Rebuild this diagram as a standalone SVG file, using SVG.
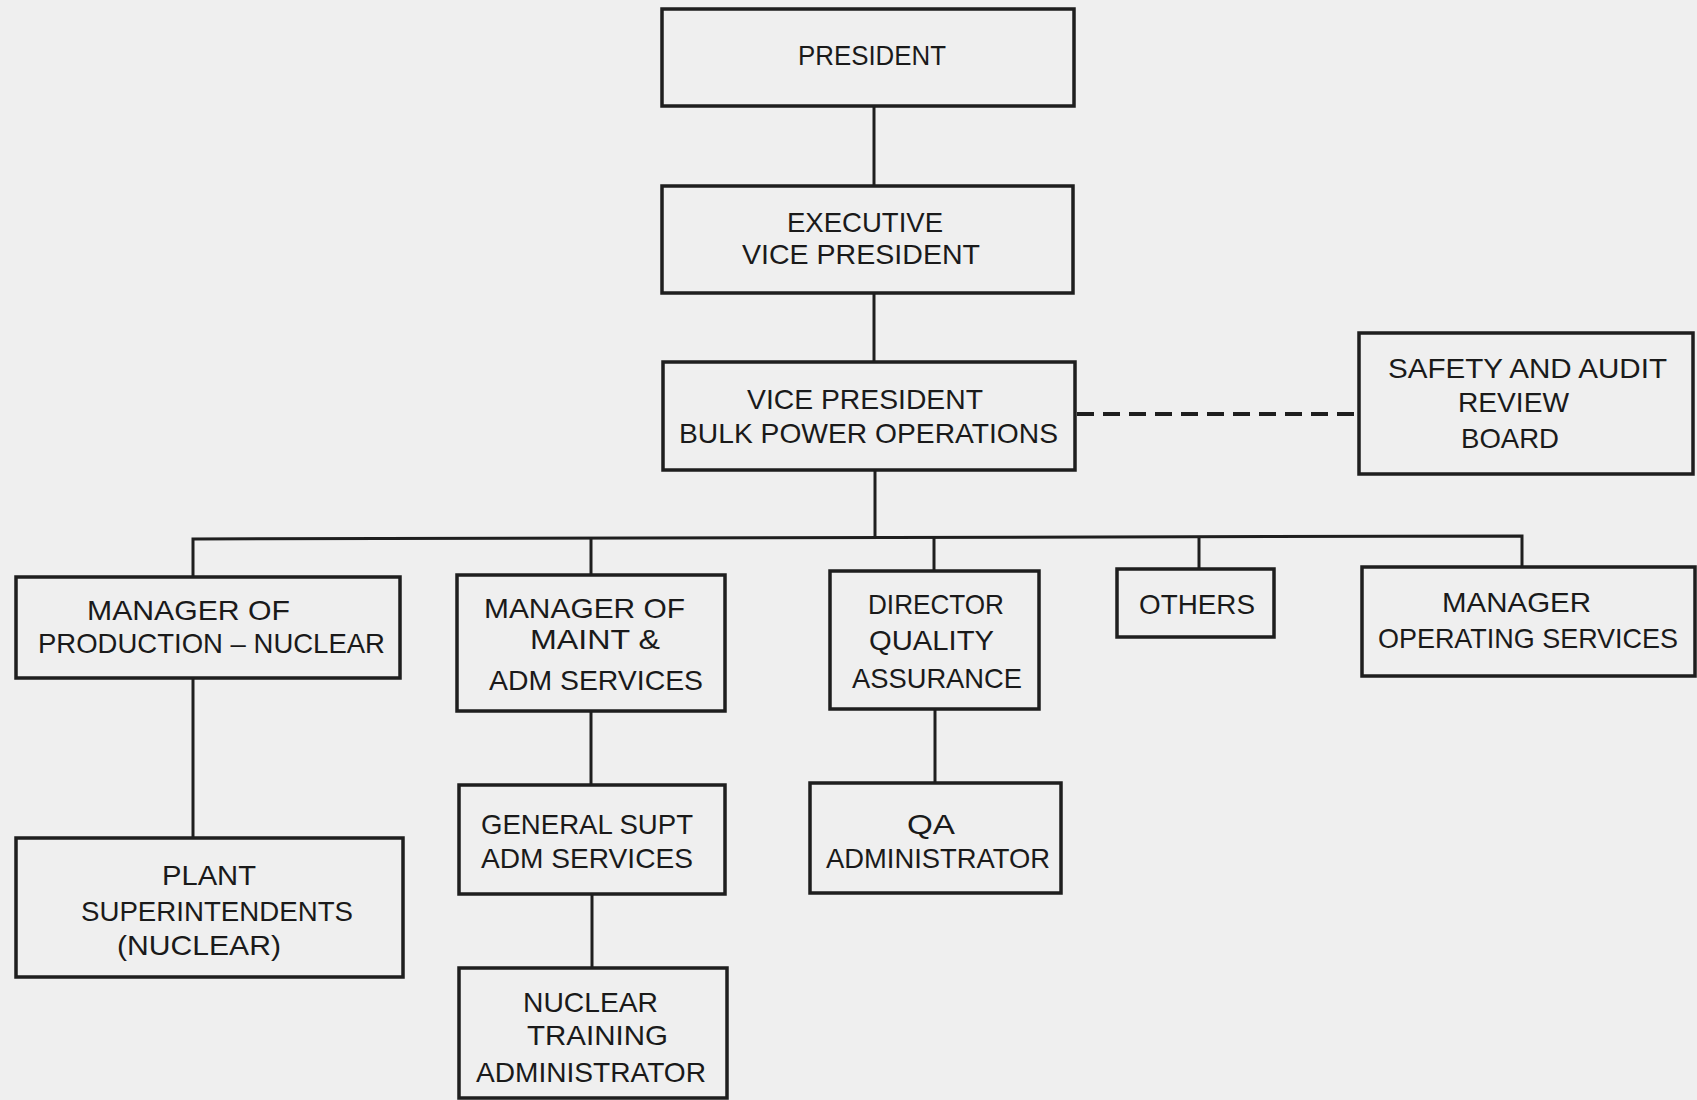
<svg xmlns="http://www.w3.org/2000/svg" width="1697" height="1100" viewBox="0 0 1697 1100">
<style>
.bg{fill:#efefef}
.box{fill:none;stroke:#1e1e1e;stroke-width:3.5}
.ln{fill:none;stroke:#1e1e1e;stroke-width:3}
.dash{fill:none;stroke:#1e1e1e;stroke-width:4;stroke-dasharray:17 9}
text{font-family:"Liberation Sans",Arial,sans-serif;font-size:28px;fill:#1a1a1a;text-anchor:start}
</style>
<rect class="bg" x="0" y="0" width="1697" height="1100"/>
<g id="connectors">
<line class="ln" x1="874" y1="106" x2="874" y2="186"/>
<line class="ln" x1="874" y1="293" x2="874" y2="362"/>
<line class="ln" x1="875" y1="470" x2="875" y2="538"/>
<polyline class="ln" points="193,577 193,539 1522,536 1522,567"/>
<line class="ln" x1="591" y1="538" x2="591" y2="575"/>
<line class="ln" x1="934" y1="537" x2="934" y2="571"/>
<line class="ln" x1="1199" y1="537" x2="1199" y2="569"/>
<line class="ln" x1="193" y1="678" x2="193" y2="838"/>
<line class="ln" x1="591" y1="711" x2="591" y2="785"/>
<line class="ln" x1="935" y1="709" x2="935" y2="783"/>
<line class="ln" x1="592" y1="894" x2="592" y2="968"/>
<line class="dash" x1="1077" y1="414" x2="1359" y2="414"/>
</g>
<g id="president">
<rect class="box" x="662" y="9" width="412" height="97"/>
<text x="798" y="65" textLength="148" lengthAdjust="spacingAndGlyphs">PRESIDENT</text>
</g>
<g id="exec-vp">
<rect class="box" x="662" y="186" width="411" height="107"/>
<text x="787" y="232" textLength="156" lengthAdjust="spacingAndGlyphs">EXECUTIVE</text>
<text x="742" y="264" textLength="238" lengthAdjust="spacingAndGlyphs">VICE  PRESIDENT</text>
</g>
<g id="vp-bulk">
<rect class="box" x="663" y="362" width="412" height="108"/>
<text x="747" y="409" textLength="236" lengthAdjust="spacingAndGlyphs">VICE PRESIDENT</text>
<text x="679" y="443" textLength="379" lengthAdjust="spacingAndGlyphs">BULK POWER OPERATIONS</text>
</g>
<g id="safety">
<rect class="box" x="1359" y="333" width="334" height="141"/>
<text x="1388" y="378" textLength="279" lengthAdjust="spacingAndGlyphs">SAFETY AND AUDIT</text>
<text x="1458" y="412" textLength="111" lengthAdjust="spacingAndGlyphs">REVIEW</text>
<text x="1461" y="448" textLength="98" lengthAdjust="spacingAndGlyphs">BOARD</text>
</g>
<g id="mgr-prod">
<rect class="box" x="16" y="577" width="384" height="101"/>
<text x="87" y="620" textLength="203" lengthAdjust="spacingAndGlyphs">MANAGER  OF</text>
<text x="38" y="653" textLength="347" lengthAdjust="spacingAndGlyphs">PRODUCTION – NUCLEAR</text>
</g>
<g id="mgr-maint">
<rect class="box" x="457" y="575" width="268" height="136"/>
<text x="484" y="618" textLength="201" lengthAdjust="spacingAndGlyphs">MANAGER  OF</text>
<text x="530" y="649" textLength="130" lengthAdjust="spacingAndGlyphs">MAINT  &amp;</text>
<text x="489" y="690" textLength="214" lengthAdjust="spacingAndGlyphs">ADM  SERVICES</text>
</g>
<g id="dir-qa">
<rect class="box" x="830" y="571" width="209" height="138"/>
<text x="868" y="614" textLength="136" lengthAdjust="spacingAndGlyphs">DIRECTOR</text>
<text x="869" y="650" textLength="125" lengthAdjust="spacingAndGlyphs">QUALITY</text>
<text x="852" y="688" textLength="170" lengthAdjust="spacingAndGlyphs">ASSURANCE</text>
</g>
<g id="others">
<rect class="box" x="1117" y="569" width="157" height="68"/>
<text x="1139" y="614" textLength="116" lengthAdjust="spacingAndGlyphs">OTHERS</text>
</g>
<g id="mgr-ops">
<rect class="box" x="1362" y="567" width="333" height="109"/>
<text x="1442" y="612" textLength="149" lengthAdjust="spacingAndGlyphs">MANAGER</text>
<text x="1378" y="648" textLength="300" lengthAdjust="spacingAndGlyphs">OPERATING SERVICES</text>
</g>
<g id="plant-supt">
<rect class="box" x="16" y="838" width="387" height="139"/>
<text x="162" y="885" textLength="94" lengthAdjust="spacingAndGlyphs">PLANT</text>
<text x="81" y="921" textLength="272" lengthAdjust="spacingAndGlyphs">SUPERINTENDENTS</text>
<text x="117" y="955" textLength="164" lengthAdjust="spacingAndGlyphs">(NUCLEAR)</text>
</g>
<g id="gen-supt">
<rect class="box" x="459" y="785" width="266" height="109"/>
<text x="481" y="834" textLength="212" lengthAdjust="spacingAndGlyphs">GENERAL SUPT</text>
<text x="481" y="868" textLength="212" lengthAdjust="spacingAndGlyphs">ADM  SERVICES</text>
</g>
<g id="qa-admin">
<rect class="box" x="810" y="783" width="251" height="110"/>
<text x="907" y="834" textLength="48" lengthAdjust="spacingAndGlyphs">QA</text>
<text x="826" y="868" textLength="224" lengthAdjust="spacingAndGlyphs">ADMINISTRATOR</text>
</g>
<g id="nuc-training">
<rect class="box" x="459" y="968" width="268" height="130"/>
<text x="523" y="1012" textLength="135" lengthAdjust="spacingAndGlyphs">NUCLEAR</text>
<text x="527" y="1045" textLength="141" lengthAdjust="spacingAndGlyphs">TRAINING</text>
<text x="476" y="1082" textLength="230" lengthAdjust="spacingAndGlyphs">ADMINISTRATOR</text>
</g>
</svg>
